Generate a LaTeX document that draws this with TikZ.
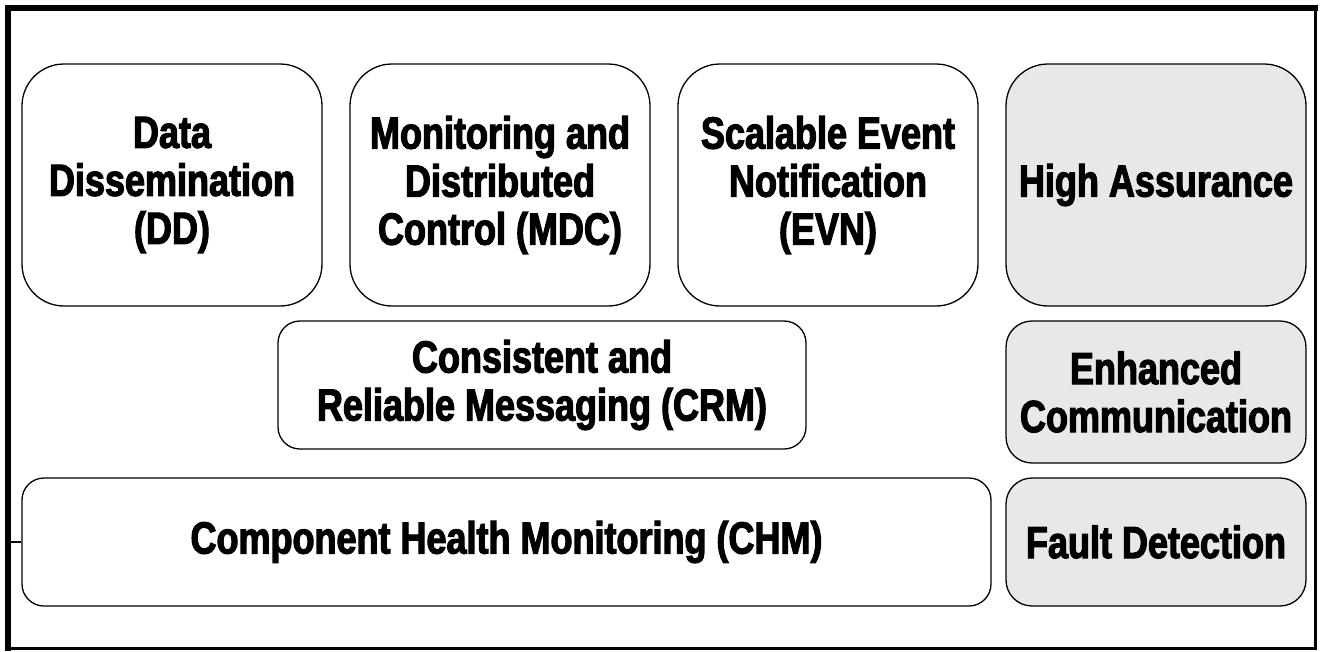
\documentclass[tikz,border=0pt]{standalone}
\usepackage{fontspec}
\newfontfamily\imp{Liberation Sans Bold}[FakeStretch=0.8,FakeBold=2.5]
\begin{document}
\begin{tikzpicture}[x=1pt,y=-1pt,
  box/.style={draw=black,line width=1.3pt,rounded corners=#1,inner sep=0pt,align=center,
    font=\imp\fontsize{45}{48}\selectfont},
  box/.default=22pt,
  big/.style={box=42pt,minimum width=300pt,minimum height=242pt},
  gray/.style={fill=black!9}]
\useasboundingbox (0,0) rectangle (1320,651);
\fill[white] (0,0) rectangle (1320,651);
% outer frame
\draw[line width=3pt] (1315,8) -- (1315,648) -- (8,648);
\draw[line width=6pt] (8,651) -- (8,8) -- (1318,8);
% top row
\node[big] (dd) at (172,185) {Data\\Dissemination\\(DD)};
\node[big] (mdc) at (500,185) {Monitoring and\\Distributed\\Control (MDC)};
\node[big] (evn) at (828,185) {Scalable Event\\Notification\\(EVN)};
\node[big,gray] (ha) at (1156,185) {High Assurance};
% middle row
\node[box,minimum width=528pt,minimum height=128pt] (crm) at (542,385) {Consistent and\\Reliable Messaging (CRM)};
\node[box=26pt,gray,minimum width=300pt,minimum height=142pt] (ec) at (1156,392) {Enhanced\\Communication};
% bottom row
\node[box,minimum width=969pt,minimum height=128pt] (chm) at (506.5,542) {Component Health Monitoring (CHM)};
\node[box=26pt,gray,minimum width=300pt,minimum height=128pt] (fd) at (1156,542) {Fault Detection};
\coordinate (lb) at (8,542);
\draw[line width=1.3pt] (lb) -- (chm.west);
\end{tikzpicture}
\end{document}
